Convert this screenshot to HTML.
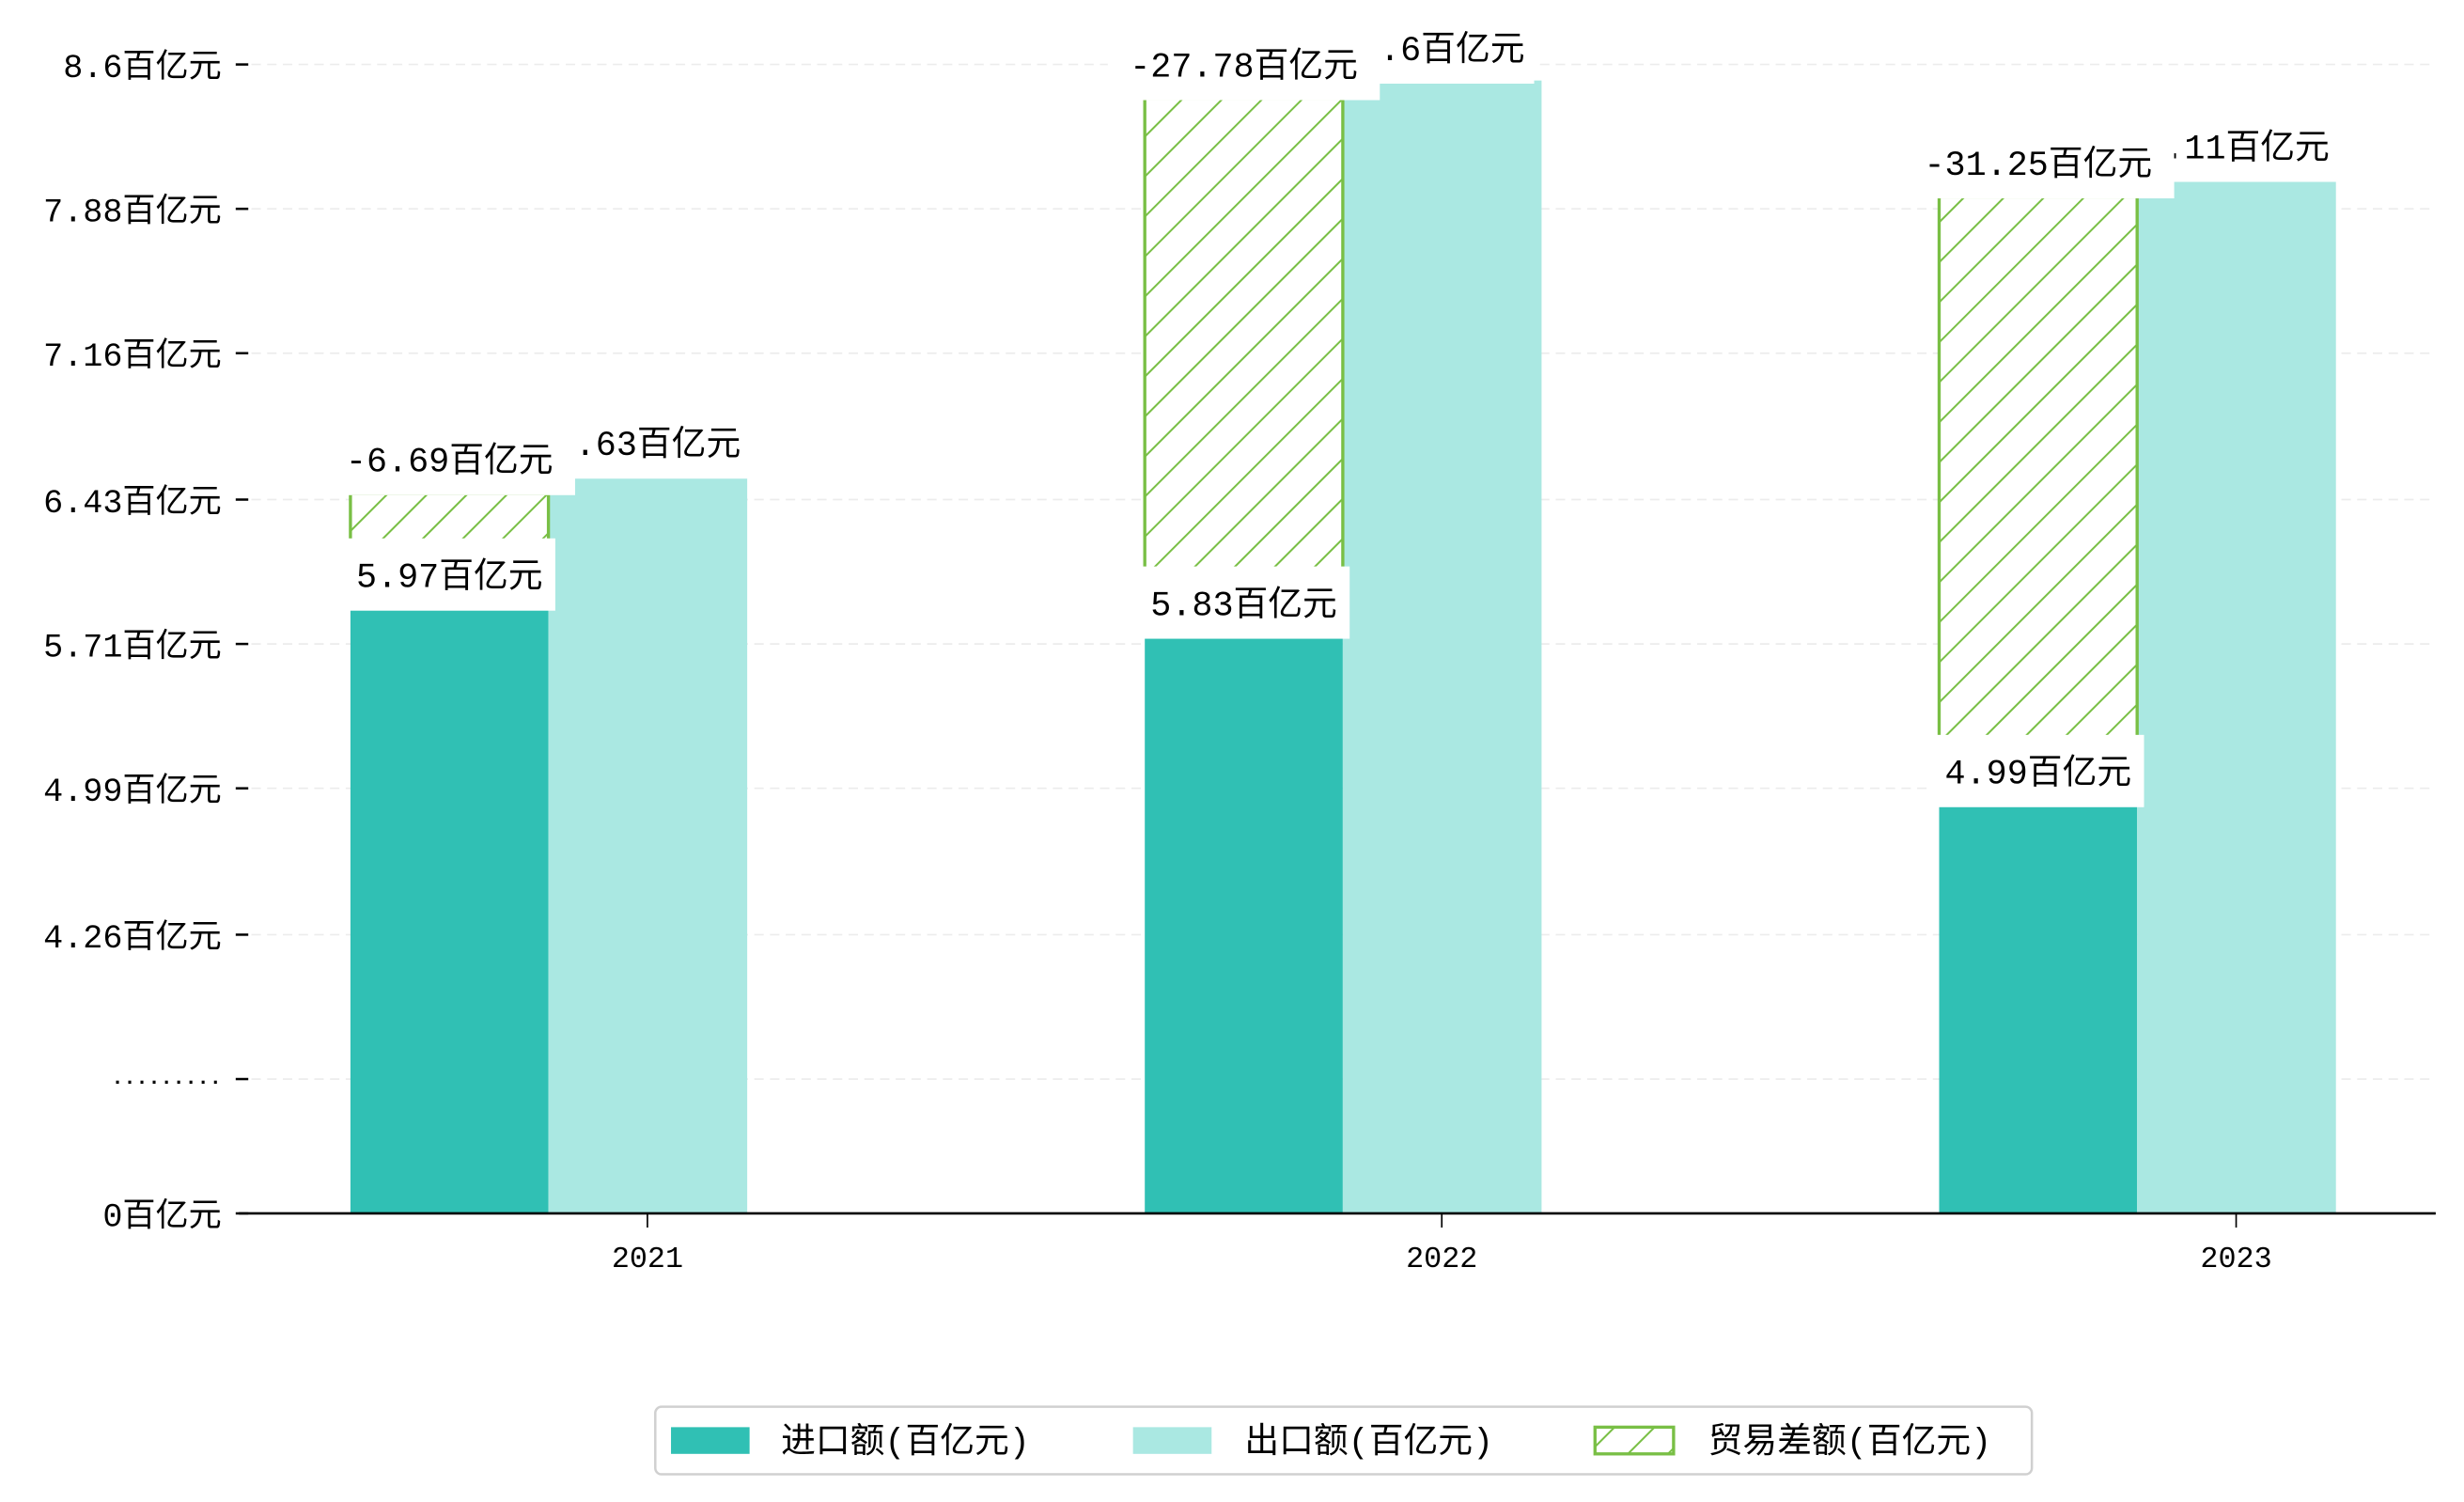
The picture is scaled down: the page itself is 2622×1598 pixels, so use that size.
<!DOCTYPE html>
<html><head><meta charset="utf-8">
<style>
html,body{margin:0;padding:0;background:#fff;}
svg{display:block;font-family:"Liberation Mono","Noto Sans CJK SC",monospace;}
</style></head>
<body>
<svg id="chart" width="2622" height="1598" viewBox="0 0 1568 955.6" xmlns="http://www.w3.org/2000/svg">
<defs>
<pattern id="hatch" patternUnits="userSpaceOnUse" width="18" height="18" patternTransform="rotate(45)">
<rect x="0" y="0" width="18" height="18" fill="#fff"/>
<line x1="0" y1="0" x2="0" y2="18" stroke="#79bf45" stroke-width="2.4"/>
</pattern>
</defs>
<g id="grid"></g>
<g id="bars"></g>
<g id="labels"></g>
<g id="axes"></g>
<g id="legend">
<rect x="417" y="895" width="876" height="43" rx="4" fill="#fff" stroke="#d0d0d0" stroke-width="1.5"/>
<rect x="427" y="908" width="50" height="17" fill="#30c0b4"/>
<text x="497" y="924" font-size="22">进口额(百亿元)</text>
<rect x="721" y="908" width="50" height="17" fill="#aae8e2"/>
<text x="792" y="924" font-size="22">出口额(百亿元)</text>
<rect x="1015" y="908" width="50" height="17" fill="url(#hatch)" stroke="#79bf45" stroke-width="2"/>
<text x="1087" y="924" font-size="22">贸易差额(百亿元)</text>
</g>
</svg>
<script>
const categories = ["2021", "2022", "2023"];
const importValues = [5.97, 5.83, 4.99];
const exportValues = [6.55, 8.52, 8.03];
const balanceTops = [6.46, 8.43, 7.94];
const importLabels = ["5.97百亿元", "5.83百亿元", "4.99百亿元"];
const exportLabels = ["6.63百亿元", "8.6百亿元", "8.11百亿元"];
const balanceLabels = ["-6.69百亿元", "-27.78百亿元", "-31.25百亿元"];
const tickValues = [8.6, 7.88, 7.16, 6.43, 5.71, 4.99, 4.26, 3.54, 2.87];
const tickLabels = ["8.6百亿元", "7.88百亿元", "7.16百亿元", "6.43百亿元", "5.71百亿元", "4.99百亿元", "4.26百亿元", ".........", "0百亿元"];

const NS = "http://www.w3.org/2000/svg";
const yTop = 41, yBot = 772, vTop = 8.6, vBot = 2.87;
function y(v){ return yBot - (v - vBot) / (vTop - vBot) * (yBot - yTop); }
function xc(i){ return 412 + i * 505.5; }
function mk(tag, attrs, parent){ const e = document.createElementNS(NS, tag); for (const k in attrs) e.setAttribute(k, attrs[k]); parent.appendChild(e); return e; }

const grid = document.getElementById('grid');
const axes = document.getElementById('axes');
tickValues.forEach((v, i) => {
  const yy = y(v);
  if (i < tickValues.length - 1) {
    const g = mk('line', {x1:160, x2:1550, y1:yy, y2:yy, stroke:'#ececec', 'stroke-width':1, 'stroke-dasharray':'6 4'}, grid);
    
    
  }
  const t = mk('line', {x1:150, x2:158, y1:yy, y2:yy, stroke:'#000', 'stroke-width':1.5}, axes);
  
  
  const isDots = tickLabels[i].charAt(0) === '.';
  const tx = mk('text', {x:141, y:isDots ? yy + 3 : yy + 8, 'font-size':isDots ? 13 : 21, 'font-weight':isDots ? 'bold' : 'normal', 'text-anchor':'end'}, axes);
  tx.textContent = tickLabels[i];
  
  
});
const ax = mk('line', {x1:152, x2:1550, y1:772, y2:772, stroke:'#000', 'stroke-width':1.6}, axes);


categories.forEach((c, i) => {
  const t = mk('line', {x1:xc(i), x2:xc(i), y1:772, y2:781, stroke:'#000', 'stroke-width':1}, axes);
  
  
  const tx = mk('text', {x:xc(i), y:806, 'font-size':19, 'text-anchor':'middle'}, axes);
  tx.textContent = c;
  
  
});

const bars = document.getElementById('bars');
const labels = document.getElementById('labels');
categories.forEach((c, i) => {
  const cx = xc(i);
  const bi = mk('rect', {x:cx - 189, width:126, y:y(importValues[i]), height:772 - y(importValues[i]), fill:'#30c0b4'}, bars);
  
  
  const be = mk('rect', {x:cx - 63, width:126.5, y:y(exportValues[i]), height:772 - y(exportValues[i]), fill:'#aae8e2'}, bars);
  
  
  const bh = mk('rect', {x:cx - 189, width:126, y:y(balanceTops[i]), height:y(importValues[i]) - y(balanceTops[i]), fill:'url(#hatch)', stroke:'#79bf45', 'stroke-width':2}, bars);
  
  
});
function label(text, cx, cy, name, pad){
  const t = mk('text', {x:cx, y:cy + 8, 'font-size':22, 'text-anchor':'middle'}, labels);
  t.textContent = text;
  const bb = t.getBBox();
  const r = document.createElementNS(NS, 'rect');
  r.setAttribute('x', bb.x - pad); r.setAttribute('y', cy - 23);
  r.setAttribute('width', bb.width + 2 * pad); r.setAttribute('height', 46);
  r.setAttribute('fill', '#fff');
  
  
  labels.insertBefore(r, t);
  
  
}
categories.forEach((c, i) => {
  label(exportLabels[i], xc(i), y(exportValues[i]) - 21, 'label-export-' + c, 6);
  label(balanceLabels[i], xc(i) - 126, y(balanceTops[i]) - 22, 'label-balance-' + c, 14);
  label(importLabels[i], xc(i) - 126, y(importValues[i]) - 11, 'label-import-' + c, 8);
});
</script>
</body></html>
